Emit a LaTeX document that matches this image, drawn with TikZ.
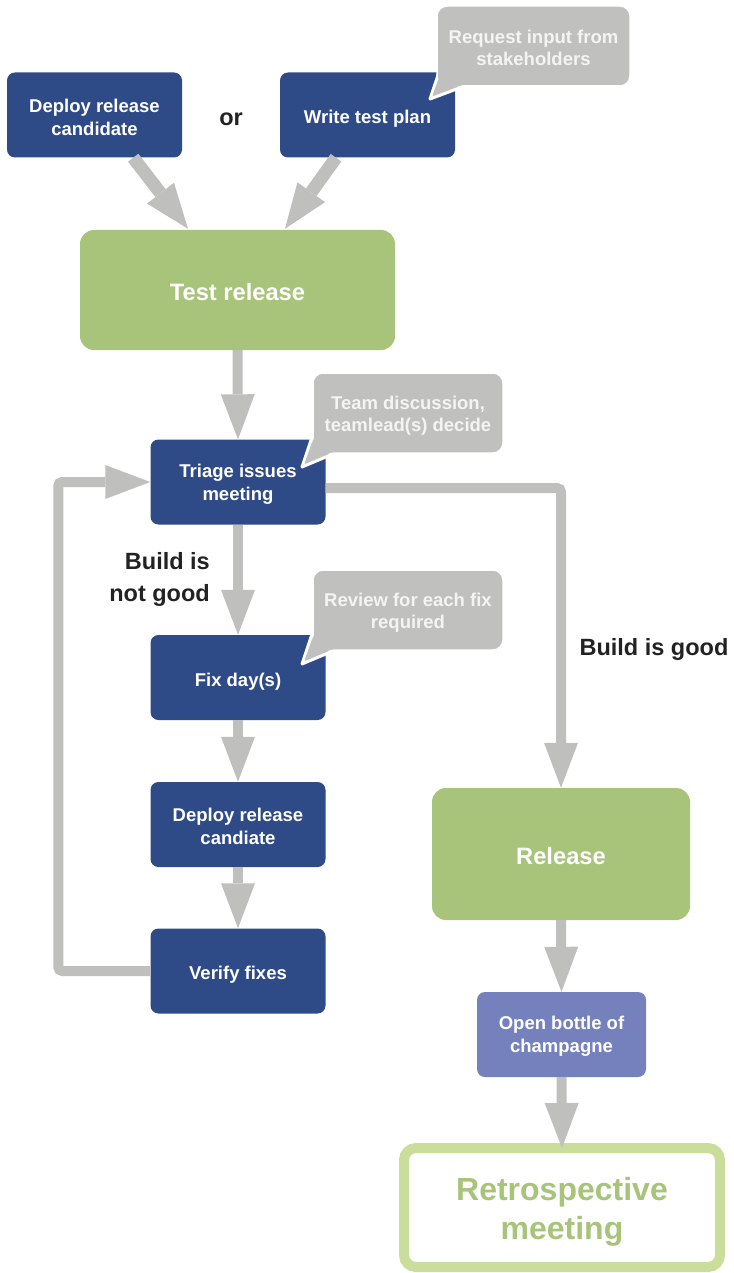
\documentclass[tikz,border=0pt]{standalone}
\usepackage{fontspec}
\setmainfont{Liberation Sans}
\usetikzlibrary{arrows.meta,calc}
\definecolor{dblue}{HTML}{2E4A87}
\definecolor{lgreen}{HTML}{A8C47A}
\definecolor{rgreen}{HTML}{CADD9A}
\definecolor{agray}{HTML}{BFBFBD}
\definecolor{cgray}{HTML}{C0C0BE}
\definecolor{purp}{HTML}{7581BC}
\definecolor{ctext}{HTML}{F4F4F4}
\definecolor{ltext}{HTML}{222222}
\begin{document}
\begin{tikzpicture}[x=1pt,y=-1pt,
  lower/.style={execute at begin node={\rule{0pt}{#1}}},
  bluebox/.style={fill=dblue, rounded corners=8pt, minimum width=175pt, minimum height=85pt, text=white, font=\bfseries\fontsize{18.5}{23}\selectfont, align=center, inner sep=0pt, lower=21.5pt},
  twolines/.style={lower=40.5pt},
  greenbox/.style={fill=lgreen, rounded corners=14pt, text=white, font=\bfseries\fontsize{23.7}{28}\selectfont, align=center, inner sep=0pt, lower=22pt},
  purpbox/.style={bluebox, fill=purp, minimum width=169pt},
  retrobox/.style={draw=rgreen, line width=10pt, fill=white, rounded corners=12pt, minimum width=316pt, minimum height=119pt, text=lgreen, font=\bfseries\fontsize{32}{39}\selectfont, align=center, inner sep=0pt, lower=70pt},
  callbox/.style={fill=cgray, draw=white, line width=1.5pt, rounded corners=10pt, text=ctext, font=\bfseries\fontsize{18.5}{22}\selectfont, align=center, inner sep=0pt, lower=40pt},
  calltail/.style={fill=cgray, draw=white, line width=3pt, line join=round},
  lbl/.style={text=ltext, font=\bfseries\fontsize{23.5}{32}\selectfont, inner sep=0pt},
  garrow/.style={draw=agray, line width=10pt, -{Triangle[length=45pt,width=34pt,line width=0pt]}},
  darrow/.style={garrow, line width=13pt}
]
\useasboundingbox (0,0) rectangle (733,1273);

% main boxes
\node[bluebox, twolines] (dep) at (94.5,115) {Deploy release\\candidate};
\node[bluebox] (write) at (367.5,115) {Write test plan};
\node[greenbox, minimum width=315pt, minimum height=120pt] (test) at (237.5,290) {Test release};
\node[bluebox, twolines] (triage) at (238,482) {Triage issues\\meeting};
\node[bluebox] (fix) at (238,677.5) {Fix day(s)};
\node[bluebox, twolines] (dep2) at (238,824.5) {Deploy release\\candiate};
\node[bluebox] (verify) at (238,971) {Verify fixes};
\node[greenbox, minimum width=258pt, minimum height=132pt] (rel) at (561,854) {Release};
\node[purpbox, twolines] (bottle) at (561.5,1034.5) {Open bottle of\\champagne};
\node[retrobox] (retro) at (562,1207.5) {Retrospective\\meeting};

% labels
\node[lbl] (or) at (231,119) {or};
\node[lbl, anchor=east, align=right] (bad) at (210,579) {Build is\\not good};
\node[lbl] (good) at (654,649.5) {Build is good};

% callouts
\path[calltail] (443,60) -- (430,99) -- (470,84) -- cycle;
\node[callbox, minimum width=193pt, minimum height=80pt] (req) at (533.5,46) {Request input from\\stakeholders};
\fill[cgray] (445,62) -- (433,94) -- (466,84) -- cycle;

\path[calltail] (315,428) -- (302,467) -- (340,451) -- cycle;
\node[callbox, minimum width=190pt, minimum height=80pt] (team) at (408,413) {Team discussion,\\teamlead(s) decide};
\fill[cgray] (317,430) -- (305,462) -- (336,451) -- cycle;

\path[calltail] (315,625) -- (302,664) -- (340,648) -- cycle;
\node[callbox, minimum width=190pt, minimum height=80pt] (rev) at (408,610) {Review for each fix\\required};
\fill[cgray] (317,627) -- (305,659) -- (336,648) -- cycle;

% connectors
\draw[darrow] ([xshift=-49pt]dep.south east) -- ([xshift=-49.5pt,yshift=1pt]test.north);
\draw[darrow] ([xshift=-31.5pt]write.south) -- ([xshift=47.5pt,yshift=1pt]test.north);
\draw[garrow] (test.south) -- (triage.north);
\draw[garrow] (triage.south) -- (fix.north);
\draw[garrow] (fix.south) -- (dep2.north);
\draw[garrow] (dep2.south) -- (verify.north);
\draw[garrow, rounded corners=4pt] (verify.west) -- ++(-92,0) |- (triage.west);
\draw[garrow, rounded corners=4pt] ([yshift=-6pt]triage.east) -| (rel.north);
\draw[garrow] (rel.south) -- (bottle.north);
\draw[garrow] (bottle.south) -- ([yshift=-5pt]retro.north);
\end{tikzpicture}
\end{document}
